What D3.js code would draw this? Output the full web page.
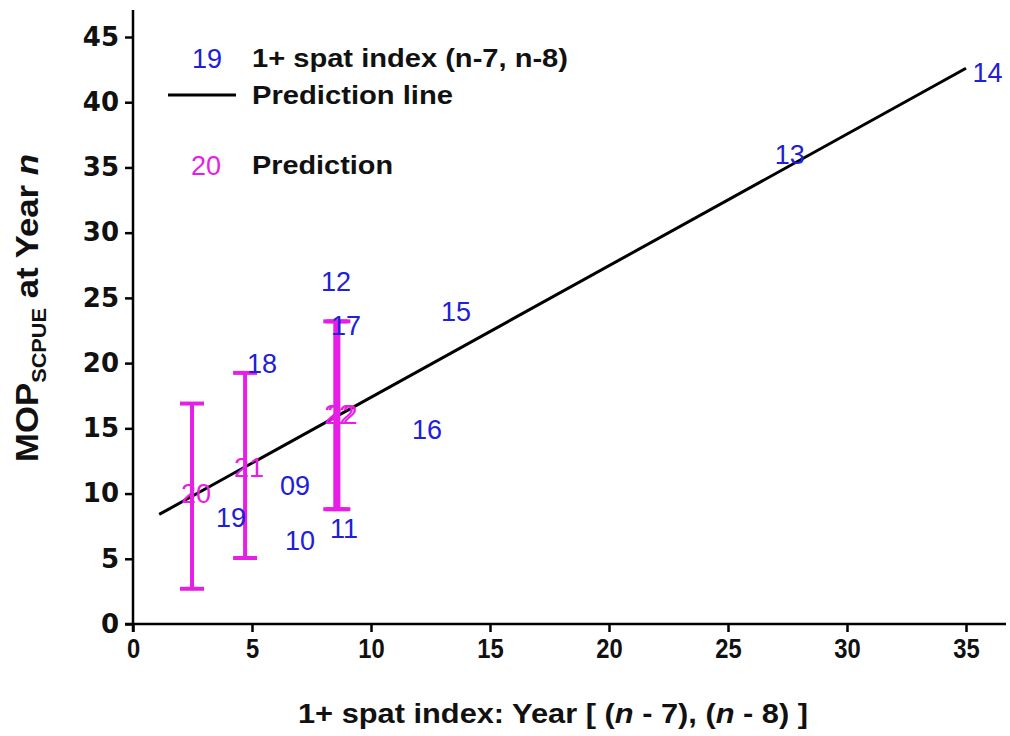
<!DOCTYPE html>
<html><head><meta charset="utf-8">
<script src="https://cdn.jsdelivr.net/npm/d3@7"></script>
<style>body{margin:0;background:#fff}</style>
</head><body>
<svg id="c" width="1010" height="736"></svg>
<script>
// ---- data ----
const obsLabels = ["09","10","11","12","13","14","15","16","17","18","19"];
const obsX = [6.81, 7.02, 8.87, 8.53, 27.6, 35.9, 13.57, 12.35, 8.95, 5.42, 4.12];
const obsY = [10.66, 6.44, 7.36, 26.3, 36.0, 42.3, 24.0, 14.9, 22.9, 20.0, 8.2];

const predLabels = ["20","21","22","22"];
const predX = [2.48, 4.71, 8.5, 8.63];
const predY = [10.0, 12.0, 16.1, 16.1];
const predLow = [2.7, 5.06, 8.8, 8.8];
const predHigh = [16.9, 19.25, 23.2, 23.2];

const lineX = [1.1, 35];
const lineY = [8.4, 42.6];

const xTicks = [0,5,10,15,20,25,30,35];
const yTicks = [0,5,10,15,20,25,30,35,40,45];

const blue = "#2020d8", mag = "#e61ee6";

const svg = d3.select("#c");
const x = d3.scaleLinear().domain([0,35]).range([133,966]);
const y = d3.scaleLinear().domain([0,45]).range([624,37]);

// axes
const yAxis = svg.append("g").attr("transform","translate(133,0)")
  .call(d3.axisLeft(y).tickValues(yTicks).tickSize(8).tickPadding(6).tickSizeOuter(0));
yAxis.select(".domain").remove();
svg.append("line").attr("x1",133).attr("x2",133).attr("y1",10).attr("y2",632)
  .attr("stroke","#000").attr("stroke-width",2.5);
yAxis.selectAll(".tick line").attr("stroke-width",2.5);
yAxis.selectAll("text").attr("font-family","DejaVu Sans").attr("font-weight","bold")
  .attr("font-size",26).attr("fill","#111");

const xAxis = svg.append("g").attr("transform","translate(0,624)")
  .call(d3.axisBottom(x).tickValues(xTicks).tickSize(8).tickPadding(7).tickSizeOuter(0));
xAxis.select(".domain").remove();
svg.append("line").attr("x1",125).attr("x2",1006).attr("y1",624).attr("y2",624)
  .attr("stroke","#000").attr("stroke-width",2.5);
xAxis.selectAll(".tick line").attr("stroke-width",2.5);
xAxis.selectAll("text").attr("font-family","Liberation Sans").attr("font-weight","bold")
  .attr("font-size",27).attr("fill","#111")
  .attr("transform","scale(0.88,1)");

// axis titles
svg.append("text").attr("x",553).attr("y",723).attr("text-anchor","middle")
  .attr("font-family","Liberation Sans").attr("font-weight","bold").attr("font-size",27)
  .attr("fill","#111")
  .attr("textLength",510).attr("lengthAdjust","spacingAndGlyphs")
  .html('1+ spat index:  Year [ (<tspan font-style="italic">n</tspan> - 7), (<tspan font-style="italic">n</tspan> - 8) ]');

const yt = svg.append("text").attr("transform","translate(38,308) rotate(-90)")
  .attr("text-anchor","middle").attr("font-family","Liberation Sans").attr("font-weight","bold")
  .attr("font-size",32).attr("fill","#111")
  .attr("textLength",308).attr("lengthAdjust","spacingAndGlyphs");
yt.append("tspan").text("MOP");
yt.append("tspan").attr("font-size",20).attr("dy",8).text("SCPUE");
yt.append("tspan").attr("dy",-8).text(" at Year ");
yt.append("tspan").attr("font-style","italic").text("n");

// prediction line
svg.append("line").attr("x1",x(lineX[0])).attr("y1",y(lineY[0]))
  .attr("x2",x(lineX[1])).attr("y2",y(lineY[1])).attr("stroke","#000").attr("stroke-width",3);

// error bars
predX.forEach((px,i)=>{
  const g = svg.append("g").attr("stroke",mag).attr("stroke-width",4);
  g.append("line").attr("x1",x(px)).attr("x2",x(px)).attr("y1",y(predLow[i])).attr("y2",y(predHigh[i]));
  g.append("line").attr("x1",x(px)-12).attr("x2",x(px)+12).attr("y1",y(predLow[i])).attr("y2",y(predLow[i]));
  g.append("line").attr("x1",x(px)-12).attr("x2",x(px)+12).attr("y1",y(predHigh[i])).attr("y2",y(predHigh[i]));
});

// observed labels
svg.append("g").selectAll("text").data(obsLabels).join("text")
  .attr("x",(d,i)=>x(obsX[i])).attr("y",(d,i)=>y(obsY[i]))
  .attr("dy","0.36em").attr("text-anchor","middle")
  .attr("font-family","Liberation Sans").attr("font-size",27).attr("fill",blue).text(d=>d);

// prediction labels
svg.append("g").selectAll("text").data(predLabels).join("text")
  .attr("x",(d,i)=>x(predX[i])+4).attr("y",(d,i)=>y(predY[i]))
  .attr("dy","0.36em").attr("text-anchor","middle")
  .attr("font-family","Liberation Sans").attr("font-size",27).attr("fill",mag).text(d=>d);

// legend
const lg = svg.append("g");
lg.append("text").attr("x",207).attr("y",58).attr("dy","0.36em").attr("text-anchor","middle")
  .attr("font-family","Liberation Sans").attr("font-size",27).attr("fill",blue).text("19");
lg.append("line").attr("x1",168).attr("x2",236).attr("y1",95).attr("y2",95)
  .attr("stroke","#000").attr("stroke-width",3);
lg.append("text").attr("x",206).attr("y",165).attr("dy","0.36em").attr("text-anchor","middle")
  .attr("font-family","Liberation Sans").attr("font-size",27).attr("fill",mag).text("20");
[["1+ spat index (n-7, n-8)",58,316],["Prediction line",95,201],["Prediction",165,141]].forEach(([t,yy,w])=>{
  lg.append("text").attr("x",252).attr("y",yy).attr("dy","0.36em")
    .attr("font-family","Liberation Sans").attr("font-weight","bold").attr("font-size",25)
    .attr("fill","#111").attr("textLength",w).attr("lengthAdjust","spacingAndGlyphs").text(t);
});
</script>
</body></html>
